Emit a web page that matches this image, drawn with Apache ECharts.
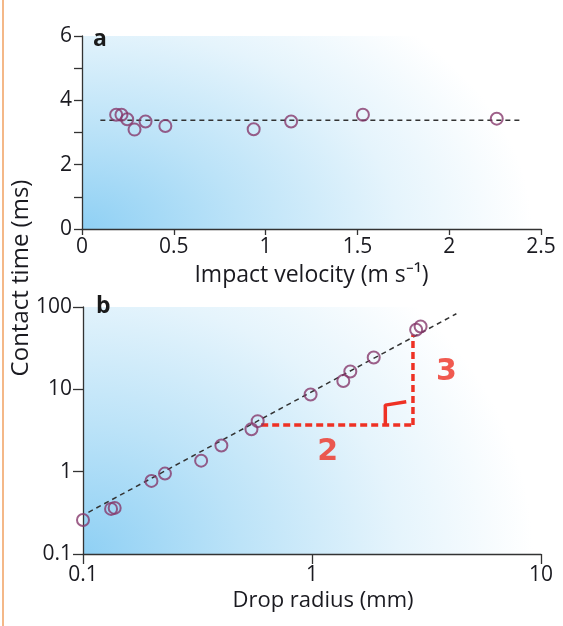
<!DOCTYPE html>
<html>
<head>
<meta charset="utf-8">
<script src="https://cdn.jsdelivr.net/npm/echarts@6/dist/echarts.min.js"></script>
<style>
html,body{margin:0;padding:0;background:#fff;}
#chart{width:563px;height:626px;}
</style>
</head>
<body>
<div id="chart"></div>
<script>
// ---- Panel a: contact time vs impact velocity ----
var velocity = [0.186, 0.215, 0.246, 0.286, 0.346, 0.454, 0.935, 1.139, 1.530, 2.259];
var timeA    = [3.55, 3.55, 3.41, 3.09, 3.34, 3.20, 3.10, 3.34, 3.55, 3.43];
var fitAX = [0.10, 2.40];
var fitAY = [3.38, 3.38];
var velTicks = [0, 0.5, 1, 1.5, 2, 2.5];

// ---- Panel b: contact time vs drop radius ----
var radius = [0.100, 0.1326, 0.1375, 0.199, 0.228, 0.328, 0.402, 0.544, 0.579, 0.986, 1.37, 1.47, 1.86, 2.85, 2.98];
var timeB  = [0.259, 0.353, 0.363, 0.772, 0.948, 1.36, 2.08, 3.28, 4.11, 8.66, 12.6, 16.5, 24.4, 53, 58];
var fitBX = [0.1056, 4.27];
var fitBY = [0.321, 82.8];

// ---- red slope annotation (data units) ----
var slopeHX = [0.60, 2.76];
var slopeHY = [3.68, 3.68];
var slopeVX = [2.76, 2.76];
var slopeVY = [3.68, 46];
var angleX = [2.09, 2.09, 2.58];
var angleY = [3.68, 6.43, 7.05];
var annotText = ['2', '3'];
var annotR = [1.17, 3.86];
var annotT = [1.74, 16.3];

function zip(a, b) { return a.map(function (v, i) { return [v, b[i]]; }); }

var FONT = 'Open Sans';
var TXT = '#1a1a20';
var AX = '#333333';
var PURPLE = '#86386c';
var RED = '#ee3124';

var gA = {left: 82, right: 22, top: 36, height: 193};
var gB = {left: 83, right: 22, top: 307, height: 247};

function bg(g) {
  var W = 563 - g.left - g.right, H = 300;
  return {
    type: 'rect', x: g.left, y: g.top, z: -10, silent: true,
    scaleY: g.height / H,
    shape: {x: 0, y: 0, width: W, height: H},
    style: {fill: {type: 'radial', x: 0, y: 1, r: 1.5, colorStops: [
      {offset: 0, color: '#8fd0f4'},
      {offset: 0.35, color: '#bce3f8'},
      {offset: 0.7, color: '#e5f4fc'},
      {offset: 1, color: '#ffffff'}
    ]}}
  };
}

var axisLine = {show: true, lineStyle: {color: AX, width: 1.3}};
var labelStyle = {color: TXT, fontFamily: FONT, fontSize: 21};

var option = {
  animation: false,
  backgroundColor: '#ffffff',
  grid: [gA, gB],
  graphic: [
    bg(gA), bg(gB),
    {type: 'line', z: 10, shape: {x1: 3, y1: 0, x2: 3, y2: 626}, style: {stroke: '#f0a060', lineWidth: 1.5}},
    {type: 'text', x: 93, y: 39, z: 10, style: {text: 'a', font: 'bold 23px "Open Sans"', fill: '#1a1a1a', verticalAlign: 'middle'}},
    {type: 'text', x: 96, y: 306, z: 10, style: {text: 'b', font: 'bold 23px "Open Sans"', fill: '#1a1a1a', verticalAlign: 'middle'}},
    {type: 'text', x: 21, y: 278, z: 10, rotation: Math.PI / 2, style: {text: 'Contact time (ms)', font: '24px "Open Sans"', fill: TXT, align: 'center', verticalAlign: 'middle'}}
  ],
  xAxis: [
    {
      gridIndex: 0, type: 'value', min: velTicks[0], max: velTicks[velTicks.length - 1], interval: 0.5,
      axisLine: axisLine, axisTick: {show: true, length: 6, lineStyle: {color: AX, width: 1.3}},
      splitLine: {show: false},
      axisLabel: Object.assign({margin: 8, formatter: function (v) { return String(v); }}, labelStyle),
      name: 'Impact velocity (m s\u207B\u00B9)', nameLocation: 'middle', nameGap: 35,
      nameTextStyle: {color: TXT, fontFamily: FONT, fontSize: 23}
    },
    {
      gridIndex: 1, type: 'log', logBase: 10, min: 0.1, max: 10,
      axisLine: axisLine, axisTick: {show: true, length: 10, lineStyle: {color: AX, width: 1.3}},
      splitLine: {show: false}, minorTick: {show: false},
      axisLabel: Object.assign({margin: 11}, labelStyle),
      name: 'Drop radius (mm)', nameLocation: 'middle', nameGap: 36,
      nameTextStyle: {color: TXT, fontFamily: FONT, fontSize: 22, padding: [0, 0, 0, 22]}
    }
  ],
  yAxis: [
    {
      gridIndex: 0, type: 'value', min: 0, max: 6, interval: 2,
      axisLine: axisLine, axisTick: {show: true, length: 8, lineStyle: {color: AX, width: 1.3}},
      minorTick: {show: true, splitNumber: 2, length: 8, lineStyle: {color: AX, width: 1.3}},
      splitLine: {show: false}, minorSplitLine: {show: false},
      axisLabel: Object.assign({margin: 10}, labelStyle)
    },
    {
      gridIndex: 1, type: 'log', logBase: 10, min: 0.1, max: 100,
      axisLine: axisLine, axisTick: {show: true, length: 10, lineStyle: {color: AX, width: 1.3}},
      splitLine: {show: false}, minorTick: {show: false},
      axisLabel: Object.assign({margin: 11}, labelStyle)
    }
  ],
  series: [
    {
      type: 'line', xAxisIndex: 0, yAxisIndex: 0, data: zip(fitAX, fitAY), symbol: 'none',
      lineStyle: {color: '#333', width: 1.5, type: [5, 4]}, z: 3
    },
    {
      type: 'scatter', xAxisIndex: 0, yAxisIndex: 0, data: zip(velocity, timeA),
      symbol: 'circle', symbolSize: 12,
      itemStyle: {color: 'rgba(0,0,0,0)', borderColor: PURPLE, borderWidth: 2}, z: 4
    },
    {
      type: 'line', xAxisIndex: 1, yAxisIndex: 1, data: zip(fitBX, fitBY), symbol: 'none',
      lineStyle: {color: '#333', width: 1.5, type: [5, 4]}, z: 3
    },
    {
      type: 'line', xAxisIndex: 1, yAxisIndex: 1, data: zip(slopeHX, slopeHY), symbol: 'none',
      lineStyle: {color: RED, width: 3.5, type: [7, 4]}, z: 3
    },
    {
      type: 'line', xAxisIndex: 1, yAxisIndex: 1, data: zip(slopeVX, slopeVY), symbol: 'none',
      lineStyle: {color: RED, width: 3.5, type: [7, 4]}, z: 3
    },
    {
      type: 'line', xAxisIndex: 1, yAxisIndex: 1, data: zip(angleX, angleY), symbol: 'none',
      lineStyle: {color: RED, width: 3.5}, z: 3
    },
    {
      type: 'scatter', xAxisIndex: 1, yAxisIndex: 1, data: zip(radius, timeB),
      symbol: 'circle', symbolSize: 12,
      itemStyle: {color: 'rgba(0,0,0,0)', borderColor: PURPLE, borderWidth: 2}, z: 4
    },
    {
      type: 'scatter', xAxisIndex: 1, yAxisIndex: 1, symbolSize: 0, z: 5,
      data: annotText.map(function (t, i) { return {name: t, value: [annotR[i], annotT[i]]}; }),
      label: {show: true, position: 'inside', formatter: '{b}', color: RED,
        fontFamily: 'DejaVu Sans', fontWeight: 'bold', fontSize: 30}
    }
  ]
};

var chart = echarts.init(document.getElementById('chart'), null, {renderer: 'canvas'});
chart.setOption(option);
</script>
</body>
</html>
